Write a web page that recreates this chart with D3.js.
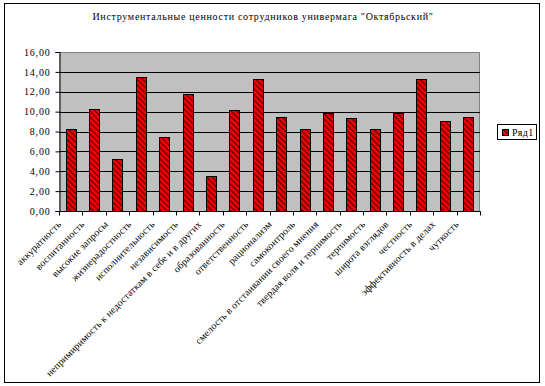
<!DOCTYPE html>
<html>
<head>
<meta charset="utf-8">
<script src="https://cdn.jsdelivr.net/npm/d3@7"></script>
<style>
  body { margin: 0; background: #fff; }
</style>
</head>
<body>
<svg id="chart" width="545" height="386"></svg>
<script>
const title = 'Инструментальные ценности сотрудников универмага "Октябрьский"'

const categories = [
    'аккуратность', 'воспитанность', 'высокие запросы', 'жизнерадостность',
    'исполнительность', 'независимость', 'непримиримость к недостаткам в себе и в других',
    'образованность', 'ответственность', 'рационализм', 'самоконтроль',
    'смелость в отстаивании своего мнения', 'твердая воля и терпимость', 'терпимость',
    'широта взглядов', 'честность', 'эффективность в делах', 'чуткость'
]
const values = [8.3, 10.3, 5.2, 13.5, 7.4, 11.8, 3.5, 10.2, 13.3, 9.5, 8.3, 9.9, 9.4, 8.3, 9.9, 13.3, 9.1, 9.5]
const yTicks = [0, 2, 4, 6, 8, 10, 12, 14, 16]
const seriesName = 'Ряд1'

const FONT = '"Liberation Serif", "Times New Roman", serif'
const plot = { left: 59, right: 480, top: 52, bottom: 211 }

const svg = d3.select('#chart')

// hatch pattern for the bars (downward diagonal)
const pat = svg.append('defs').append('pattern')
    .attr('id', 'hatch')
    .attr('patternUnits', 'userSpaceOnUse')
    .attr('width', 4).attr('height', 4)
    .attr('patternTransform', 'rotate(-45)')
pat.append('rect').attr('width', 4).attr('height', 4).attr('fill', '#ff0000')
pat.append('rect').attr('width', 1.6).attr('height', 4).attr('fill', '#700000')

// outer frame
svg.append('rect')
    .attr('x', 4.5).attr('y', 3.5)
    .attr('width', 535).attr('height', 379)
    .attr('fill', '#fff').attr('stroke', '#000')

svg.append('text')
    .attr('x', 263).attr('y', 20)
    .attr('text-anchor', 'middle')
    .style('font-family', FONT)
    .style('font-size', '10px')
    .style('letter-spacing', '0.7px')
    .text(title)

const x = d3.scaleBand()
    .domain(categories)
    .range([plot.left, plot.right])
    .paddingInner(0.57)
    .paddingOuter(0.285)

const y = d3.scaleLinear().domain([0, 16]).range([plot.bottom, plot.top])

// plot area
svg.append('rect')
    .attr('x', plot.left).attr('y', plot.top)
    .attr('width', plot.right - plot.left).attr('height', plot.bottom - plot.top)
    .attr('fill', '#c0c0c0')
svg.append('path')
    .attr('d', `M${plot.left},${plot.top + 0.5}H${plot.right - 0.5}V${plot.bottom}`)
    .attr('fill', 'none').attr('stroke', '#808080')

// gridlines
svg.append('g')
    .selectAll('line')
    .data(yTicks.filter(d => d > 0 && d < 16))
    .join('line')
    .attr('x1', plot.left).attr('x2', plot.right)
    .attr('y1', d => Math.round(y(d)) + 0.5).attr('y2', d => Math.round(y(d)) + 0.5)
    .attr('stroke', '#000')

// bars
svg.append('g')
    .selectAll('rect')
    .data(values)
    .join('rect')
    .attr('x', (d, i) => Math.round(x(categories[i])) + 0.5)
    .attr('y', d => Math.round(y(d)) + 0.5)
    .attr('width', Math.round(x.bandwidth()))
    .attr('height', d => Math.round(y(0)) - Math.round(y(d)))
    .attr('fill', 'url(#hatch)')
    .attr('stroke', '#000')

// y axis
const yAxis = svg.append('g')
    .attr('transform', `translate(${plot.left + 0.5},0)`)
    .call(d3.axisLeft(y).tickValues(yTicks).tickSize(4).tickPadding(5)
        .tickFormat(d => d3.format('.2f')(d).replace('.', ',')))
yAxis.select('.domain').attr('stroke', '#000')
yAxis.selectAll('.tick line').attr('stroke', '#000')
yAxis.selectAll('text')
    .style('font-family', FONT)
    .style('font-size', '10px')
    .style('letter-spacing', '0.8px')

// x axis
const step = x.step()
const xAxis = svg.append('g')
    .attr('transform', `translate(0,${plot.bottom + 0.5})`)
xAxis.append('line')
    .attr('x1', plot.left).attr('x2', plot.right + 0.5)
    .attr('stroke', '#000')
xAxis.selectAll('.tk')
    .data(d3.range(categories.length + 1))
    .join('line')
    .attr('x1', i => Math.round(plot.left + i * step) + 0.5)
    .attr('x2', i => Math.round(plot.left + i * step) + 0.5)
    .attr('y1', 0).attr('y2', 4)
    .attr('stroke', '#000')

svg.append('g')
    .selectAll('text')
    .data(categories)
    .join('text')
    .attr('transform', d => `translate(${x(d) + x.bandwidth() / 2 - 9},${plot.bottom + 14}) rotate(-45)`)
    .attr('text-anchor', 'end')
    .style('font-family', FONT)
    .style('font-size', '10px')
    .style('letter-spacing', '0.1px')
    .text(d => d)

// legend
const lg = svg.append('g').attr('transform', 'translate(497,124)')
lg.append('rect')
    .attr('x', 0.5).attr('y', 0.5)
    .attr('width', 39).attr('height', 15)
    .attr('fill', '#fff').attr('stroke', '#000')
lg.append('rect')
    .attr('x', 5.5).attr('y', 5.5)
    .attr('width', 6).attr('height', 6)
    .attr('fill', 'url(#hatch)').attr('stroke', '#000')
lg.append('text')
    .attr('x', 15).attr('y', 11.5)
    .style('font-family', FONT)
    .style('font-size', '10px')
    .style('letter-spacing', '0.5px')
    .text(seriesName)
</script>
</body>
</html>
